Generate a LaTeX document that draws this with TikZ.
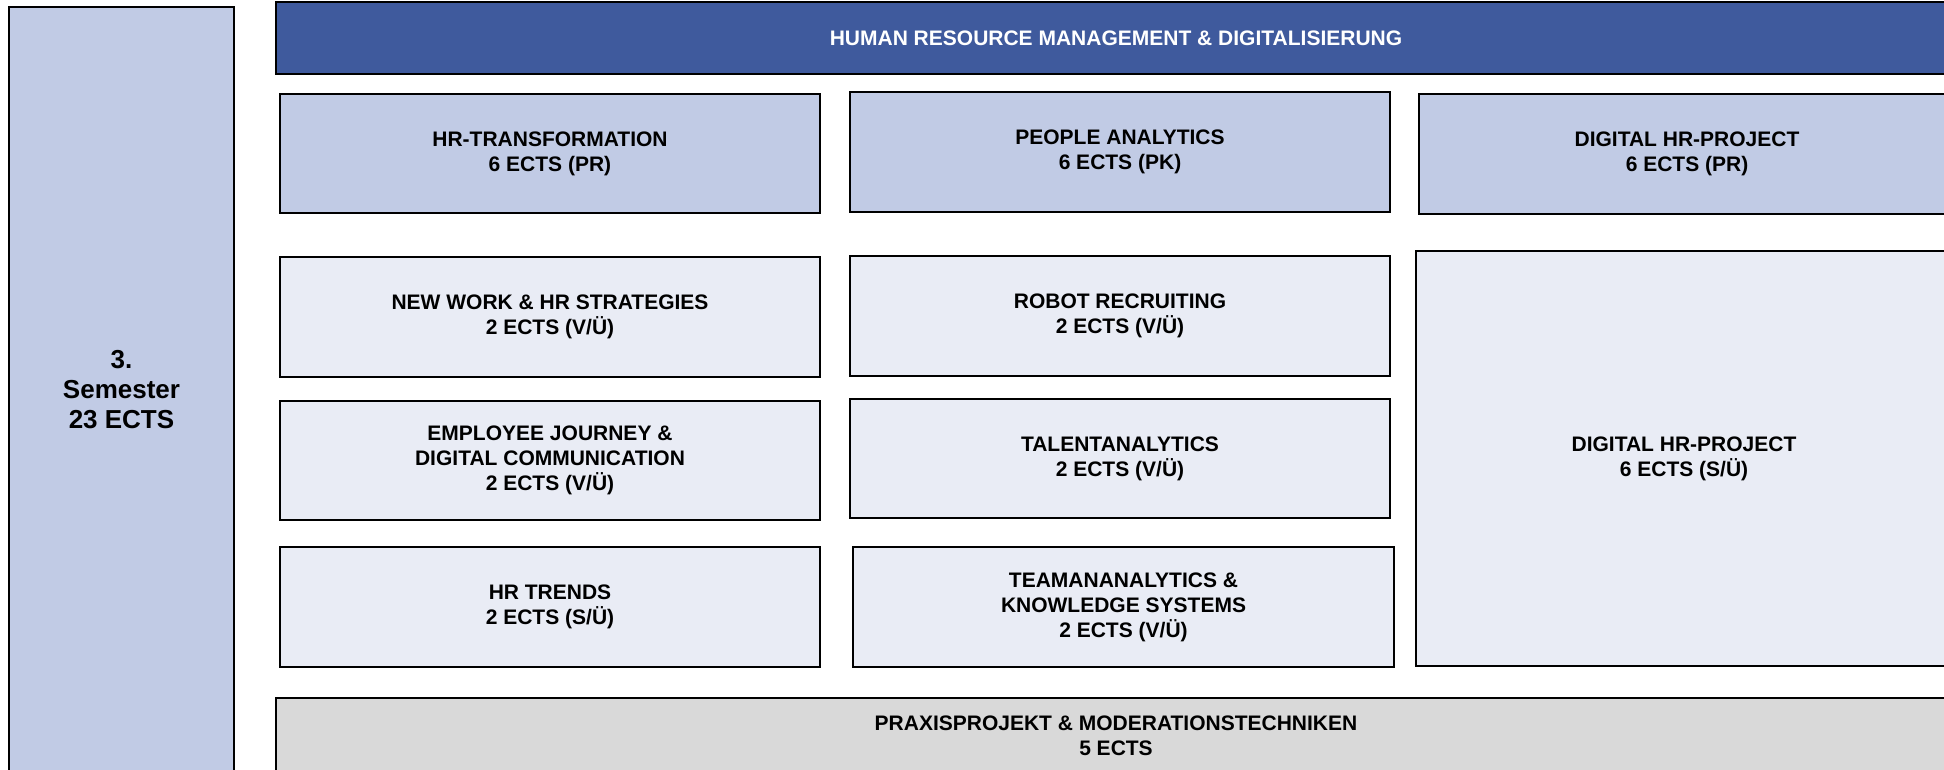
\documentclass[tikz,border=0pt]{standalone}
\usepackage{fontspec}
\setmainfont{Liberation Sans}
\definecolor{semblue}{HTML}{C1CBE5}
\definecolor{headblue}{HTML}{3F5A9D}
\definecolor{modullight}{HTML}{E9ECF5}
\definecolor{praxisgrey}{HTML}{D9D9D9}
\begin{document}
\begin{tikzpicture}[x=0.5pt,y=-0.5pt]
\useasboundingbox (0,0) rectangle (1944,770);
\tikzstyle{every node}=[draw,shape=rectangle,line width=0.85pt,align=center,inner sep=0pt,font=\bfseries\fontsize{10.5}{12.5}\selectfont];
\tikzstyle{dunkel}=[fill=semblue];
\tikzstyle{hell}=[fill=modullight];
\tikzstyle{modul}=[minimum width=270pt,minimum height=60pt];
% Semester und Kopfzeile
\node[dunkel,minimum width=112.5pt,minimum height=382.5pt,font=\bfseries\fontsize{13}{15}\selectfont] (sem) at (121.5, 389.5) {3.\\Semester\\23 ECTS};
\node[fill=headblue,text=white,minimum width=840pt,minimum height=36pt] (head) at (1116, 38) {HUMAN RESOURCE MANAGEMENT \& DIGITALISIERUNG};
% erste Zeile
\node[dunkel,modul,minimum height=59.5pt] (trans) at (550, 153.5) {HR-TRANSFORMATION\\6 ECTS (PR)};
\node[dunkel,modul] (analytics) at (1120, 152) {PEOPLE ANALYTICS\\6 ECTS (PK)};
\node[dunkel,modul,minimum width=268pt] (projpr) at (1687, 154) {DIGITAL HR-PROJECT\\6 ECTS (PR)};
% Module links und Mitte
\node[hell,modul] (newwork) at (550, 317) {NEW WORK \& HR STRATEGIES\\2 ECTS (V/Ü)};
\node[hell,modul] (robot) at (1120, 316) {ROBOT RECRUITING\\2 ECTS (V/Ü)};
\node[hell,modul,minimum height=59.5pt] (journey) at (550, 460.5) {EMPLOYEE JOURNEY \&\\DIGITAL COMMUNICATION\\2 ECTS (V/Ü)};
\node[hell,modul,minimum height=59.5pt] (talent) at (1120, 458.5) {TALENTANALYTICS\\2 ECTS (V/Ü)};
\node[hell,modul] (trends) at (550, 607) {HR TRENDS\\2 ECTS (S/Ü)};
\node[hell,modul,minimum width=270.5pt] (team) at (1123.5, 607) {TEAMANANALYTICS \&\\KNOWLEDGE SYSTEMS\\2 ECTS (V/Ü)};
% Projekt rechts
\node[hell,minimum width=268pt,minimum height=207.5pt] (projsu) at (1684, 458.5) {DIGITAL HR-PROJECT\\6 ECTS (S/Ü)};
% Praxisprojekt
\node[fill=praxisgrey,minimum width=840pt,minimum height=38pt] (praxis) at (1116, 736) {PRAXISPROJEKT \& MODERATIONSTECHNIKEN\\5 ECTS};
\end{tikzpicture}
\end{document}
